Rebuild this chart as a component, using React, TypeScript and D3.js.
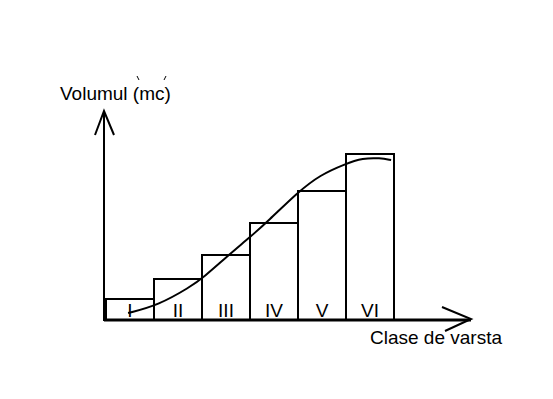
import * as d3 from 'd3';

// age classes and volume per class (bar heights)
const classes = ['I', 'II', 'III', 'IV', 'V', 'VI'];
const volumes = [21, 41, 65, 97, 129, 166];

// hand drawn growth curve: position along the class axis, volume
const curveX = [0.46, 1.1, 1.75, 2.02, 2.58, 2.98, 3.38, 4.0, 4.46, 4.98, 5.35, 5.71, 5.94];
const curveY = [7, 15, 33, 42, 66, 82, 99, 128, 145, 156, 162, 162, 160];

const yTitle = 'Volumul (mc)';
const xTitle = 'Clase de varsta';

const W = 553;
const H = 399;
const font = '"Liberation Sans", Arial, sans-serif';

const App = () => {
  const left = 106;
  const right = 394;
  const base = 320;

  const x = d3.scaleBand<string>().domain(classes).range([left, right]).paddingInner(0);
  const xc = d3.scaleLinear().domain([0, classes.length]).range([left, right]);
  const y = d3.scaleLinear().domain([0, 200]).range([base, base - 200]);

  const pts: [number, number][] = curveX.map((c, i) => [xc(c), y(curveY[i])]);
  const line = d3.line().curve(d3.curveBasis);

  return (
    <svg width={W} height={H} style={{ position: 'absolute', left: 0, top: 0, background: '#fff' }}>
      <rect width={W} height={H} fill="#fff" />

      {/* bars */}
      {classes.map((c, i) => (
        <rect key={c} x={x(c)} y={y(volumes[i])} width={x.bandwidth()} height={base - y(volumes[i])}
          fill="none" stroke="#000" strokeWidth={2} />
      ))}

      {/* class labels */}
      {classes.map(c => (
        <text key={c} x={(x(c) as number) + x.bandwidth() / 2} y={317} textAnchor="middle"
          fontFamily={font} fontSize={19}>{c}</text>
      ))}

      {/* curve */}
      <path d={line(pts) || ''} fill="none" stroke="#000" strokeWidth={2} />

      {/* y axis */}
      <line x1={104} y1={321} x2={104} y2={111} stroke="#000" strokeWidth={2} />
      <polyline points="95,135 104,111 114,135" fill="none" stroke="#000" strokeWidth={2} />

      {/* x axis */}
      <line x1={104} y1={320} x2={471} y2={320} stroke="#000" strokeWidth={3} />
      <polyline points="442,307 471,319 445,331" fill="none" stroke="#000" strokeWidth={2} />

      <text x={60} y={100} fontFamily={font} fontSize={19}>{yTitle}</text>
      <line x1={137} y1={76} x2={139} y2={80} stroke="#000" strokeWidth={1} />
      <line x1={166} y1={76} x2={164} y2={80} stroke="#000" strokeWidth={1} />

      <text x={370} y={344} fontFamily={font} fontSize={19}>{xTitle}</text>
    </svg>
  );
};

export default App;
